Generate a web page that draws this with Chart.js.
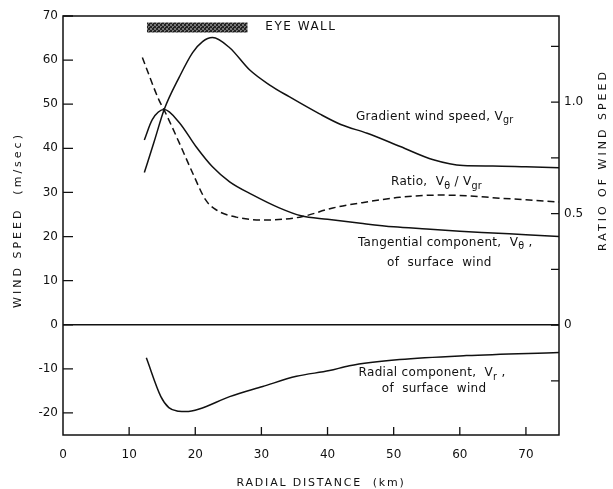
<!DOCTYPE html>
<html>
<head>
<meta charset="utf-8">
<script src="https://cdn.jsdelivr.net/npm/chart.js@4/dist/chart.umd.min.js"></script>
<style>
  body { margin: 0; background: #fff; }
</style>
</head>
<body>
<canvas id="windChart" width="613" height="489"></canvas>
<script>
// Radial distance (km) and values
const gradKm   = [12.3, 13.8, 15.3, 17.6, 19.6, 21.1, 22.6, 25.2, 28.2, 31.2, 34.2, 38.8, 42, 46, 51, 56, 60.5, 65, 70, 75];
const gradWind = [34.5, 41.6, 48.8, 56.2, 61.7, 64.2, 65.1, 62.8, 57.8, 54.4, 51.7, 47.8, 45.4, 43.4, 40.4, 37.4, 36.1, 36.0, 35.8, 35.6];

const tanKm   = [12.3, 13.5, 15.3, 17.6, 20.1, 22.6, 25.2, 28.6, 32.7, 36, 40, 45, 50, 55, 60, 65, 70, 75];
const tanWind = [41.9, 46.5, 48.8, 45.8, 40.4, 35.8, 32.4, 29.5, 26.5, 24.7, 23.9, 23.0, 22.2, 21.7, 21.2, 20.8, 20.4, 20.0];

const ratioKm  = [12, 14.5, 15.3, 17.6, 19.6, 21.6, 23.2, 26.2, 30.2, 35.8, 40.8, 45.9, 50.9, 57, 61, 66, 70, 75];
const ratioVal = [1.2, 1.01, 0.964, 0.816, 0.682, 0.56, 0.516, 0.484, 0.471, 0.484, 0.525, 0.552, 0.573, 0.583, 0.58, 0.569, 0.562, 0.552];

const radKm   = [12.6, 14.8, 16, 17.5, 18.6, 20.6, 25.2, 30.2, 35.3, 40.3, 43.3, 50.9, 61, 75];
const radWind = [-7.5, -16.3, -18.8, -19.6, -19.7, -19.1, -16.3, -14, -11.7, -10.4, -9.3, -7.9, -7.0, -6.3];

// eye wall extent (km) and the level it is drawn at (m/sec)
const eyeKm = [12.7, 27.9];
const eyeLevel = 67.4;

const kmTicks = [0, 10, 20, 30, 40, 50, 60, 70];
const windTicks = [-20, -10, 0, 10, 20, 30, 40, 50, 60, 70];
const ratioTicks = [0, 0.5, 1.0];
const ratioMinor = [-0.25, 0.25, 0.75, 1.25];

const pts = (xs, ys) => xs.map((x, i) => ({ x: x, y: ys[i] }));
const FONT = '"DejaVu Sans", sans-serif';

// dotted grey texture for the eye wall band
const pat = (() => {
    const c = document.createElement('canvas');
    c.width = 4; c.height = 4;
    const g = c.getContext('2d');
    g.fillStyle = '#777'; g.fillRect(0, 0, 4, 4);
    g.fillStyle = '#222';
    g.fillRect(0, 0, 2, 2); g.fillRect(2, 2, 2, 2);
    g.fillRect(1, 3, 1, 1);
    return g.createPattern(c, 'repeat');
})();

function drawRuns(ctx, parts, x, y, size) {
    parts.forEach(p => {
        const sub = p[1];
        ctx.font = (sub ? size * 0.8 : size) + 'px ' + FONT;
        ctx.fillText(p[0], x, y + (sub ? size * 0.35 : 0));
        x += ctx.measureText(p[0]).width;
    });
}

const decor = {
    id: 'decor',
    afterDatasetsDraw(chart) {
        const { ctx, chartArea: a, scales } = chart;
        const xs = scales.x, ys = scales.y, yr = scales.y2;
        ctx.save();
        ctx.strokeStyle = '#111';
        ctx.lineWidth = 1.5;
        ctx.strokeRect(a.left, a.top, a.right - a.left, a.bottom - a.top);

        const y0 = ys.getPixelForValue(0);
        ctx.beginPath();
        ctx.moveTo(a.left, y0); ctx.lineTo(a.right, y0);
        ctx.stroke();

        // inward tick marks
        ctx.lineWidth = 1.3;
        ctx.beginPath();
        windTicks.forEach(v => {
            const py = ys.getPixelForValue(v);
            ctx.moveTo(a.left, py); ctx.lineTo(a.left + 10, py);
        });
        kmTicks.slice(1).forEach(v => {
            const px = xs.getPixelForValue(v);
            ctx.moveTo(px, a.bottom); ctx.lineTo(px, a.bottom - 8);
        });
        ratioTicks.concat(ratioMinor).forEach(v => {
            const py = yr.getPixelForValue(v);
            ctx.moveTo(a.right, py); ctx.lineTo(a.right - 8, py);
        });
        ctx.stroke();

        // labels
        ctx.fillStyle = '#111';
        ctx.textBaseline = 'middle';
        ctx.textAlign = 'left';
        const at = (km, w) => [xs.getPixelForValue(km), ys.getPixelForValue(w)];
        let p;
        ctx.letterSpacing = '1.5px';
        p = at(30.6, 67.6);
        drawRuns(ctx, [['EYE WALL']], p[0], p[1], 12);
        ctx.letterSpacing = '0.3px';
        p = at(44.3, 47.2);
        drawRuns(ctx, [['Gradient wind speed, V'], ['gr', 1]], p[0], p[1], 12);
        p = at(49.6, 32.4);
        drawRuns(ctx, [['Ratio,  V'], ['\u03b8', 1], [' / V'], ['gr', 1]], p[0], p[1], 12);
        p = at(44.6, 18.6);
        drawRuns(ctx, [['Tangential component,  V'], ['\u03b8', 1], [' ,']], p[0], p[1], 12);
        p = at(49.0, 14.1);
        drawRuns(ctx, [['of  surface  wind']], p[0], p[1], 12);
        p = at(44.7, -10.9);
        drawRuns(ctx, [['Radial component,  V'], ['r', 1], [' ,']], p[0], p[1], 12);
        p = at(48.2, -14.5);
        drawRuns(ctx, [['of  surface  wind']], p[0], p[1], 12);

        // axis titles
        ctx.font = '11px ' + FONT;
        ctx.textAlign = 'center';
        ctx.letterSpacing = '1.8px';
        ctx.fillText('RADIAL DISTANCE  (km)', 321, 483);
        ctx.save();
        ctx.translate(18, 220);
        ctx.rotate(-Math.PI / 2);
        ctx.letterSpacing = '3px';
        ctx.fillText('WIND SPEED  (m/sec)', 0, 0);
        ctx.restore();
        ctx.save();
        ctx.translate(603, 160);
        ctx.rotate(-Math.PI / 2);
        ctx.letterSpacing = '3px';
        ctx.fillText('RATIO OF WIND SPEED', 0, 0);
        ctx.restore();
        ctx.restore();
    }
};

const lineStyle = {
    borderColor: '#111',
    borderWidth: 1.5,
    pointRadius: 0,
    fill: false,
    cubicInterpolationMode: 'monotone'
};

const tickFont = { family: FONT, size: 12 };

new Chart(document.getElementById('windChart').getContext('2d'), {
    type: 'line',
    data: {
        datasets: [
            Object.assign({ label: 'Gradient wind speed', data: pts(gradKm, gradWind), yAxisID: 'y' }, lineStyle),
            Object.assign({ label: 'Tangential component', data: pts(tanKm, tanWind), yAxisID: 'y' }, lineStyle),
            Object.assign({ label: 'Radial component', data: pts(radKm, radWind), yAxisID: 'y' }, lineStyle),
            Object.assign({ label: 'Ratio', data: pts(ratioKm, ratioVal), yAxisID: 'y2', borderDash: [7, 4] }, lineStyle),
            {
                label: 'Eye wall',
                data: eyeKm.map(k => ({ x: k, y: eyeLevel })),
                yAxisID: 'y',
                borderColor: pat,
                borderWidth: 10,
                borderCapStyle: 'butt',
                pointRadius: 0
            }
        ]
    },
    options: {
        responsive: false,
        animation: false,
        layout: { padding: { top: 16, left: 0, right: 0, bottom: 0 } },
        plugins: { legend: { display: false }, tooltip: { enabled: false } },
        scales: {
            x: {
                type: 'linear',
                min: 0,
                max: 75,
                afterBuildTicks: s => { s.ticks = kmTicks.map(v => ({ value: v })); },
                afterFit: s => { s.height = 54; },
                grid: { display: false, drawTicks: false },
                border: { display: false },
                ticks: { padding: 13, color: '#111', font: tickFont }
            },
            y: {
                position: 'left',
                min: -25,
                max: 70,
                afterBuildTicks: s => { s.ticks = windTicks.map(v => ({ value: v })); },
                afterFit: s => { s.width = 63; },
                grid: { display: false, drawTicks: false },
                border: { display: false },
                ticks: { padding: 5, color: '#111', font: tickFont }
            },
            y2: {
                position: 'right',
                min: -0.493,
                max: 1.386,
                afterBuildTicks: s => { s.ticks = ratioTicks.map(v => ({ value: v })); },
                afterFit: s => { s.width = 54; },
                grid: { display: false, drawTicks: false },
                border: { display: false },
                ticks: { padding: 5, color: '#111', font: tickFont, callback: v => (v === 0 ? '0' : v.toFixed(1)) }
            }
        }
    },
    plugins: [decor]
});
</script>
</body>
</html>
